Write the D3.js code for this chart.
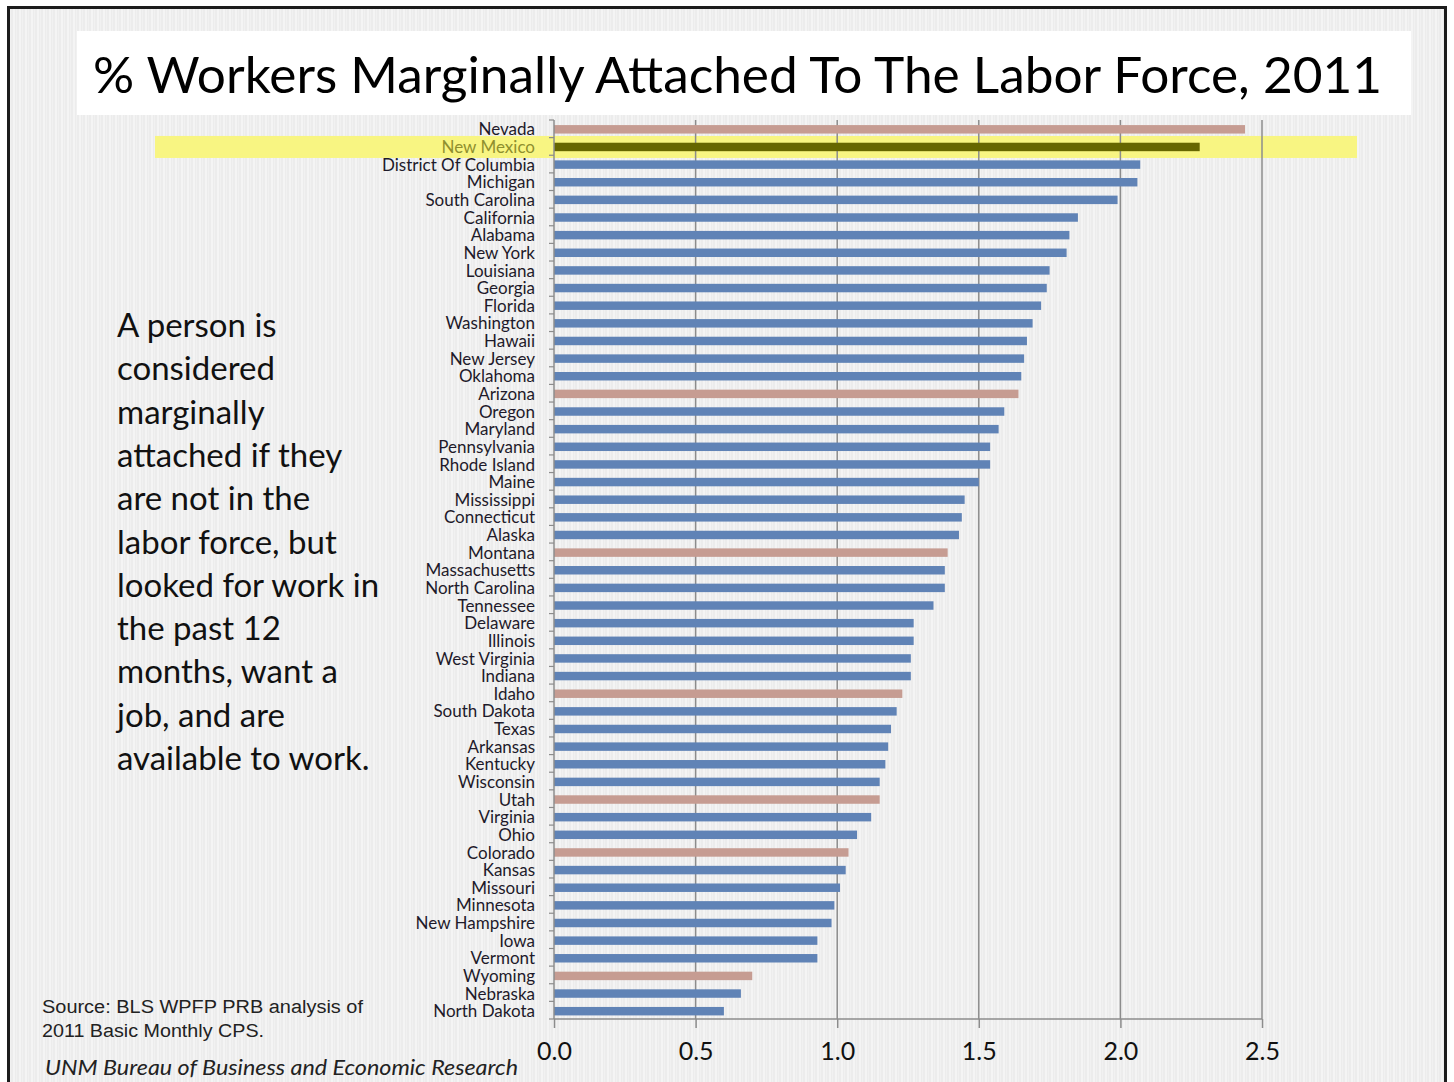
<!DOCTYPE html>
<html>
<head>
<meta charset="utf-8">
<script src="https://cdn.jsdelivr.net/npm/d3@7"></script>
<style>
  html, body { margin: 0; padding: 0; background: #ffffff; }
  svg { display: block; }
</style>
</head>
<body>
<svg id="chart" width="1454" height="1082"></svg>
<script>
// ---------------- DATA ----------------
const states = ["Nevada","New Mexico","District Of Columbia","Michigan","South Carolina","California","Alabama","New York","Louisiana","Georgia","Florida","Washington","Hawaii","New Jersey","Oklahoma","Arizona","Oregon","Maryland","Pennsylvania","Rhode Island","Maine","Mississippi","Connecticut","Alaska","Montana","Massachusetts","North Carolina","Tennessee","Delaware","Illinois","West Virginia","Indiana","Idaho","South Dakota","Texas","Arkansas","Kentucky","Wisconsin","Utah","Virginia","Ohio","Colorado","Kansas","Missouri","Minnesota","New Hampshire","Iowa","Vermont","Wyoming","Nebraska","North Dakota"];
const values = [2.44,2.28,2.07,2.06,1.99,1.85,1.82,1.81,1.75,1.74,1.72,1.69,1.67,1.66,1.65,1.64,1.59,1.57,1.54,1.54,1.50,1.45,1.44,1.43,1.39,1.38,1.38,1.34,1.27,1.27,1.26,1.26,1.23,1.21,1.19,1.18,1.17,1.15,1.15,1.12,1.07,1.04,1.03,1.01,0.99,0.98,0.93,0.93,0.70,0.66,0.60];
const mountainStates = ["Nevada","Arizona","Montana","Idaho","Utah","Colorado","Wyoming"];
const highlightState = "New Mexico";
const xTicks = [0, 0.5, 1.0, 1.5, 2.0, 2.5];
const titleText = "% Workers Marginally Attached To The Labor Force, 2011";
const noteLines = ["A person is","considered","marginally","attached if they","are not in the","labor force, but","looked for work in","the past 12","months, want a","job, and are","available to work."];
const sourceLines = ["Source: BLS WPFP PRB analysis of","2011 Basic Monthly CPS."];
const creditText = "UNM Bureau of Business and Economic Research";

// ---------------- LAYOUT ----------------
const svg = d3.select("#chart");
const W = 1454, H = 1082;
const plot = { left: 554, right: 1262, top: 120, bottom: 1019 };
const FONT = "Lato, 'Open Sans', sans-serif";
const colBlue = "#6083b6", colPink = "#c69c92", colHL = "#666600";

// background pattern (pinstripes)
const defs = svg.append("defs");
const pat = defs.append("pattern").attr("id","stripes").attr("patternUnits","userSpaceOnUse")
  .attr("width", 6).attr("height", 10);
pat.append("rect").attr("width",6).attr("height",10).attr("fill","#ececec");
pat.append("rect").attr("x",1).attr("width",2).attr("height",10).attr("fill","#f4f4f4");
pat.append("rect").attr("x",4).attr("width",1).attr("height",10).attr("fill","#f1f1f1");

svg.append("rect").attr("x",0).attr("y",0).attr("width",W).attr("height",H).attr("fill","#ffffff");
svg.append("rect").attr("x",8.5).attr("y",7.5).attr("width",1437).attr("height",1100)
  .attr("fill","url(#stripes)").attr("stroke","#1c1c1c").attr("stroke-width",3);

// title box
svg.append("rect").attr("x",77).attr("y",31).attr("width",1334).attr("height",84).attr("fill","#ffffff");
svg.append("text").attr("x",93).attr("y",93)
  .attr("font-family",FONT).attr("font-size",50).attr("fill","#000")
  .attr("textLength",1289).attr("lengthAdjust","spacingAndGlyphs")
  .text(titleText);

// scales
const x = d3.scaleLinear().domain([0, 2.5]).range([plot.left, plot.right]);
const y = d3.scaleBand().domain(states).range([plot.top + 0.5, plot.bottom + 1]).paddingInner(0.52).paddingOuter(0.26);

// highlight band for New Mexico
const hlY = y(highlightState) + y.bandwidth()/2;
svg.append("rect").attr("x",155).attr("y",hlY-11).attr("width",1202).attr("height",22)
  .attr("fill","#f8f582");

// gridlines
svg.append("g").selectAll("line").data(xTicks.filter(d => d > 0)).join("line")
  .attr("x1", d => x(d)).attr("x2", d => x(d))
  .attr("y1", plot.top).attr("y2", plot.bottom)
  .attr("stroke","#8c8c8c").attr("stroke-width",1.5);

// bars
svg.append("g").selectAll("rect").data(states).join("rect")
  .attr("x", x(0))
  .attr("y", d => y(d))
  .attr("width", (d,i) => x(values[i]) - x(0))
  .attr("height", y.bandwidth())
  .attr("fill", d => d === highlightState ? colHL : (mountainStates.includes(d) ? colPink : colBlue));

// y axis (left)
const yAxis = d3.axisLeft(y).tickSize(0).tickPadding(19);
const gy = svg.append("g").attr("transform", `translate(${plot.left},0)`).call(yAxis);
gy.select(".domain").attr("stroke","#8c8c8c").attr("stroke-width",1.5)
  .attr("d", `M0,${plot.top}V${plot.bottom}`);
gy.selectAll("text").attr("font-family",FONT).attr("font-size",17)
  .attr("fill", d => d === highlightState ? "#8f8f2e" : "#1e1a2a").attr("dy","0.36em");
// boundary ticks on y axis
const boundaries = d3.range(states.length + 1).map(i => plot.top + i * (plot.bottom - plot.top) / states.length);
svg.append("g").selectAll("line").data(boundaries).join("line")
  .attr("x1", plot.left - 5).attr("x2", plot.left)
  .attr("y1", d => d).attr("y2", d => d)
  .attr("stroke","#8c8c8c").attr("stroke-width",1.2);

// x axis (bottom)
const xAxis = d3.axisBottom(x).tickValues(xTicks).tickFormat(d3.format(".1f")).tickSize(9).tickPadding(14);
const gx = svg.append("g").attr("transform", `translate(0,${plot.bottom})`).call(xAxis);
gx.select(".domain").attr("stroke","#8c8c8c").attr("stroke-width",1.5).attr("d", `M${plot.left},0H${plot.right}`);
gx.selectAll(".tick line").attr("stroke","#8c8c8c").attr("stroke-width",1.5);
gx.selectAll("text").attr("font-family",FONT).attr("font-size",25).attr("fill","#111");

// note text
svg.append("g").selectAll("text").data(noteLines).join("text")
  .attr("x",117).attr("y",(d,i) => 337 + i*43.3)
  .attr("font-family",FONT).attr("font-size",33).attr("fill","#111")
  .text(d => d);

// source text
const sourceWidths = [321, 222];
svg.append("g").selectAll("text").data(sourceLines).join("text")
  .attr("x",42).attr("y",(d,i) => 1013 + i*24)
  .attr("font-family","'Liberation Sans', Arial, sans-serif").attr("font-size",18).attr("fill","#222")
  .attr("textLength",(d,i) => sourceWidths[i]).attr("lengthAdjust","spacingAndGlyphs")
  .text(d => d);

svg.append("text").attr("x",45).attr("y",1075)
  .attr("font-family",FONT).attr("font-style","italic").attr("font-size",21).attr("fill","#222")
  .attr("textLength",473).attr("lengthAdjust","spacingAndGlyphs")
  .text(creditText);
</script>
</body>
</html>
